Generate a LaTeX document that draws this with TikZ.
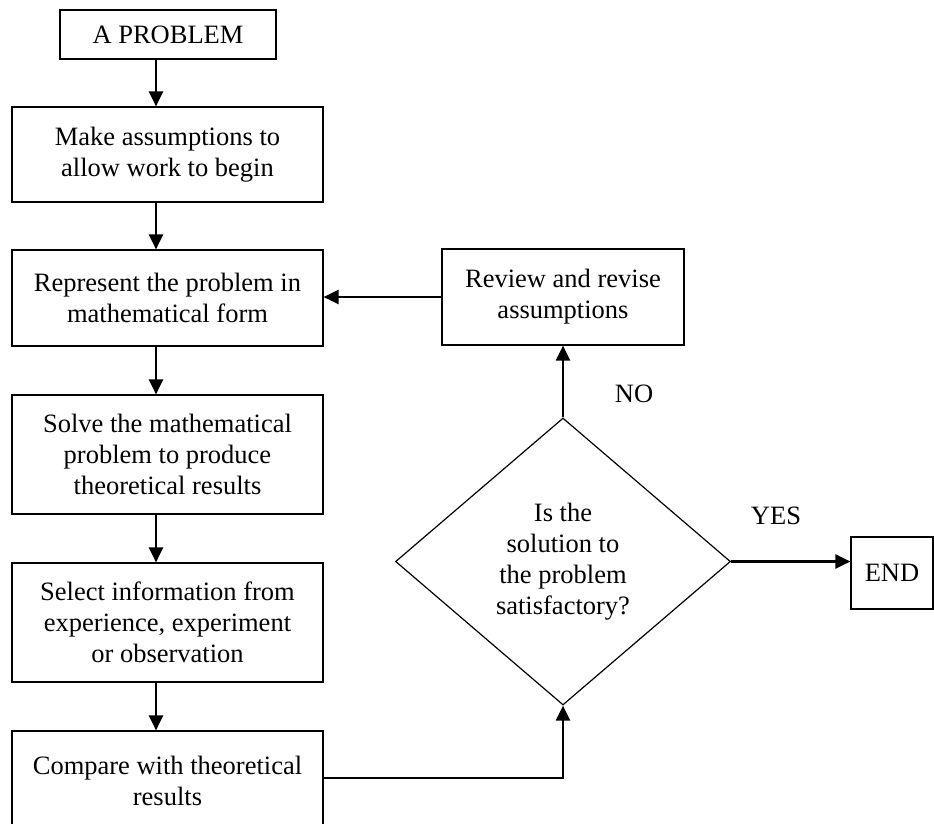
\documentclass[tikz,border=0pt]{standalone}
\usepackage{fontspec}
\setmainfont{Liberation Serif}
\usetikzlibrary{arrows.meta,shapes.geometric}

\begin{document}
\begin{tikzpicture}[x=1pt,y=-1pt,
    every node/.style={font=\fontsize{26.5}{31}\selectfont},
    stepbox/.style={draw, line width=1.2pt, align=center, inner sep=0pt},
    choice/.style={diamond, draw, line width=1.2pt, align=center, inner sep=0pt, minimum width=335pt, minimum height=287pt},
    flow/.style={line width=2.2pt, -{Triangle[length=15pt,width=14pt]}}]
    \useasboundingbox (0,0) rectangle (934,823);
    \coordinate (spine) at (156,0);
    % left column
    \node[stepbox, minimum width=216pt, minimum height=49pt] (prob) at (168,34.5) {A PROBLEM};
    \node[stepbox, minimum width=311pt, minimum height=95pt] (assume) at (167.5,154.5) {Make assumptions to\\allow work to begin};
    \node[stepbox, minimum width=311pt, minimum height=96pt] (represent) at (167.5,298) {Represent the problem in\\mathematical form};
    \node[stepbox, minimum width=311pt, minimum height=119pt] (solve) at (167.5,454.5) {Solve the mathematical\\problem to produce\\theoretical results};
    \node[stepbox, minimum width=311pt, minimum height=119pt] (select) at (167.5,622.5) {Select information from\\experience, experiment\\or observation};
    \node[stepbox, minimum width=311pt, minimum height=100pt] (compare) at (167.5,781) {Compare with theoretical\\results};
    % right side
    \node[stepbox, minimum width=242pt, minimum height=96pt] (review) at (563,297) {Review and revise\\assumptions};
    \node[choice] (check) at (563,561.5) {Is the\\solution to\\the problem\\satisfactory?};
    \node[stepbox, minimum width=82pt, minimum height=72pt] (finish) at (892,573) {END};
    \node (nolbl) at (634,394) {NO};
    \node (yeslbl) at (776,516) {YES};

    \draw[flow] (prob.south -| spine) -- (assume.north -| spine);
    \draw[flow] (assume.south -| spine) -- (represent.north -| spine);
    \draw[flow] (represent.south -| spine) -- (solve.north -| spine);
    \draw[flow] (solve.south -| spine) -- (select.north -| spine);
    \draw[flow] (select.south -| spine) -- (compare.north -| spine);
    \draw[flow] ([yshift=3pt]compare.east) -| (check.south);
    \draw[flow] (check.north) -- (review.south);
    \draw[flow] (review.west) -- (review.west -| represent.east);
    \draw[flow] (check.east) -- (check.east -| finish.west);
\end{tikzpicture}
\end{document}
